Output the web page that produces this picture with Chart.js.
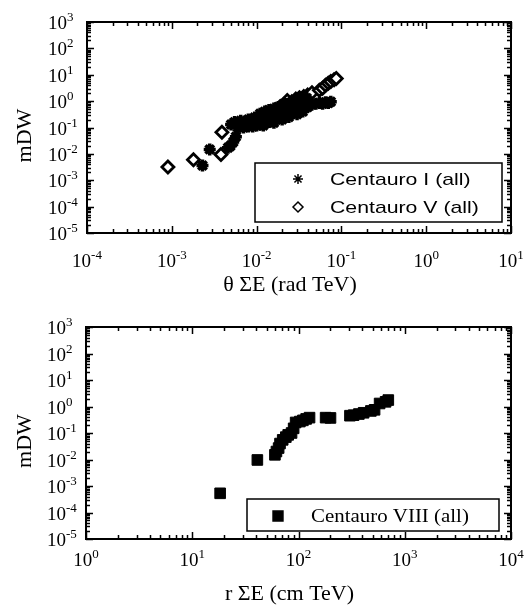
<!DOCTYPE html>
<html>
<head>
<meta charset="utf-8">
<title>mDW vs theta SumE / r SumE</title>
<script src="https://cdn.jsdelivr.net/npm/chart.js@4.4.0/dist/chart.umd.min.js"></script>
<style>
  html, body { margin: 0; padding: 0; background: #fff; }
  .panel { position: absolute; left: 0; width: 529px; }
  #topPanel { top: 0; height: 300px; }
  #bottomPanel { top: 300px; height: 305px; }
</style>
</head>
<body>
<div class="panel" id="topPanel"><canvas id="thetaChart"></canvas></div>
<div class="panel" id="bottomPanel"><canvas id="radiusChart"></canvas></div>
<script>
// --- data ---

// Centauro I (all): theta*SumE [rad TeV] vs mDW
const thetaE_I = [0.0023, 0.0028, 0.0046, 0.0049, 0.0053, 0.0057,
  0.006, 0.007, 0.008, 0.009, 0.010, 0.011, 0.012, 0.013, 0.014, 0.015, 0.017, 0.019, 0.021, 0.023, 0.025, 0.028, 0.031, 0.034, 0.037, 0.040,
  0.005, 0.006, 0.0075, 0.009, 0.0105, 0.012, 0.0135, 0.015, 0.017, 0.019, 0.022, 0.025, 0.028, 0.032, 0.036, 0.040,
  0.0055, 0.0065, 0.008, 0.0095, 0.011, 0.0125, 0.014, 0.016, 0.018, 0.020, 0.022, 0.025, 0.028, 0.031, 0.035, 0.039,
  0.012, 0.016, 0.020, 0.024, 0.030, 0.035,
  0.045, 0.050, 0.055, 0.060, 0.065, 0.070, 0.075];
const mdw_I = [0.0036, 0.0148, 0.017, 0.020, 0.028, 0.045,
  0.10, 0.10, 0.11, 0.11, 0.12, 0.13, 0.14, 0.15, 0.16, 0.18, 0.20, 0.23, 0.26, 0.30, 0.33, 0.38, 0.44, 0.50, 0.55, 0.60,
  0.13, 0.14, 0.15, 0.16, 0.19, 0.22, 0.25, 0.28, 0.32, 0.37, 0.43, 0.50, 0.56, 0.65, 0.72, 0.80,
  0.16, 0.18, 0.20, 0.24, 0.33, 0.40, 0.46, 0.52, 0.60, 0.66, 0.78, 0.85, 1.0, 1.1, 1.2, 1.3,
  0.12, 0.15, 0.20, 0.25, 0.32, 0.40,
  0.75, 0.80, 0.85, 0.80, 0.90, 0.85, 0.95];

// Centauro V (all)
const thetaE_V = [0.0009, 0.0018, 0.0038, 0.0039,
  0.019, 0.021, 0.023, 0.026, 0.029, 0.032, 0.036, 0.040, 0.045,
  0.055, 0.060, 0.065, 0.070, 0.075, 0.082, 0.087];
const mdw_V = [0.0032, 0.006, 0.0095, 0.066,
  0.62, 0.75, 1.05, 0.95, 1.2, 1.35, 1.5, 1.7, 2.1,
  2.6, 3.1, 4.0, 4.8, 5.5, 6.5, 7.2];

// Centauro VIII (all): r*SumE [cm TeV] vs mDW
const rE_VIII = [18.3, 41, 60, 62, 65, 67, 71, 76, 80, 86, 90, 94, 103, 110, 118, 127,
  180, 200, 305, 330, 370, 410, 480, 520, 580, 660, 700];
const mdw_VIII = [0.00053, 0.0096, 0.015, 0.020, 0.027, 0.040, 0.055, 0.070, 0.085, 0.10, 0.15, 0.25, 0.27, 0.30, 0.34, 0.38,
  0.38, 0.37, 0.45, 0.47, 0.52, 0.58, 0.68, 0.75, 1.3, 1.5, 1.75];

// tick decades (labels are 10^n)
const thetaDecades = [-4, -3, -2, -1, 0, 1];
const radiusDecades = [0, 1, 2, 3, 4];
const mdwDecades = [-5, -4, -3, -2, -1, 0, 1, 2, 3];

const toPoints = (xs, ys) => xs.map((x, i) => ({ x: x, y: ys[i] }));

// frame with inward ticks on all sides, 10^n labels, titles and boxed legend
const sciFrame = {
  id: 'sciFrame',
  afterDatasetsDraw(chart, args, opts) {
    const ctx = chart.ctx;
    const a = chart.chartArea;
    const xs = chart.scales.x, ys = chart.scales.y;
    ctx.save();
    ctx.strokeStyle = '#000';
    ctx.fillStyle = '#000';

    ctx.lineWidth = 1.5;
    const ticks = (decs, scale, horiz) => {
      decs.forEach((d, i) => {
        for (let k = 1; k <= 9; k++) {
          if (i === decs.length - 1 && k > 1) break;
          const p = Math.round(scale.getPixelForValue(k * Math.pow(10, d))) + 0.5;
          const len = k === 1 ? 7 : 4;
          ctx.beginPath();
          if (horiz) {
            ctx.moveTo(p, a.bottom); ctx.lineTo(p, a.bottom - len);
            ctx.moveTo(p, a.top); ctx.lineTo(p, a.top + len);
          } else {
            ctx.moveTo(a.left, p); ctx.lineTo(a.left + len, p);
            ctx.moveTo(a.right, p); ctx.lineTo(a.right - len, p);
          }
          ctx.stroke();
        }
      });
    };
    ticks(opts.xDecades, xs, true);
    ticks(opts.yDecades, ys, false);

    ctx.lineWidth = 2;
    ctx.strokeRect(a.left, a.top, a.right - a.left, a.bottom - a.top);

    // tick labels
    const baseFont = '19px "Liberation Serif", "Times New Roman", serif';
    const supFont = '13px "Liberation Serif", "Times New Roman", serif';
    ctx.textBaseline = 'alphabetic';
    ctx.textAlign = 'left';
    opts.xDecades.forEach(d => {
      const p = xs.getPixelForValue(Math.pow(10, d));
      ctx.font = baseFont;
      const bw = ctx.measureText('10').width;
      ctx.font = supFont;
      const sw = ctx.measureText(String(d)).width;
      const x0 = p - (bw + sw) / 2;
      ctx.font = baseFont;
      ctx.fillText('10', x0, a.bottom + opts.xLabelOffset);
      ctx.font = supFont;
      ctx.fillText(String(d), x0 + bw, a.bottom + opts.xLabelOffset - 8);
    });
    opts.yDecades.forEach(d => {
      const p = ys.getPixelForValue(Math.pow(10, d));
      const xr = a.left - 20;
      ctx.font = baseFont;
      ctx.textAlign = 'right';
      ctx.fillText('10', xr, p + 7);
      ctx.font = supFont;
      ctx.textAlign = 'left';
      ctx.fillText(String(d), xr, p - 1);
    });

    // axis titles
    ctx.font = '22px "Liberation Serif", "Times New Roman", serif';
    ctx.textAlign = 'center';
    ctx.textBaseline = 'middle';
    ctx.fillText(opts.xTitle, (a.left + a.right) / 2 - 9, a.bottom + opts.xTitleOffset);
    ctx.save();
    ctx.translate(25, (a.top + a.bottom) / 2 + 8);
    ctx.rotate(-Math.PI / 2);
    ctx.fillText(opts.yTitle, 0, 0);
    ctx.restore();

    // legend box
    const lg = opts.legend;
    const bx = a.right - lg.fromRight, by = a.top + lg.fromTop;
    ctx.fillStyle = '#fff';
    ctx.fillRect(bx, by, lg.w, lg.h);
    ctx.lineWidth = 1.5;
    ctx.strokeRect(bx, by, lg.w, lg.h);
    ctx.textAlign = 'left';
    ctx.textBaseline = 'middle';
    chart.data.datasets.forEach((ds, i) => {
      const ry = by + lg.rowY[i];
      ctx.fillStyle = ds.backgroundColor;
      ctx.strokeStyle = ds.borderColor;
      if (Chart.helpers && Chart.helpers.drawPoint) {
        Chart.helpers.drawPoint(ctx, {
          pointStyle: ds.pointStyle,
          radius: lg.markerRadius[i],
          borderWidth: ds.borderWidth,
          rotation: 0
        }, bx + lg.markerX, ry);
      }
      ctx.fillStyle = '#000';
      ctx.font = lg.font;
      ctx.save();
      ctx.translate(bx + lg.textX, ry + 1);
      ctx.scale(lg.stretch, 1);
      ctx.fillText(ds.label, 0, 0);
      ctx.restore();
    });
    ctx.restore();
  }
};

function logAxes(xMin, xMax, yWidth, xHeight) {
  return {
    x: {
      type: 'logarithmic', min: xMin, max: xMax,
      ticks: { display: false }, grid: { display: false }, border: { display: false },
      afterFit: s => { s.height = xHeight; }
    },
    y: {
      type: 'logarithmic', min: 1e-5, max: 1e3,
      ticks: { display: false }, grid: { display: false }, border: { display: false },
      afterFit: s => { s.width = yWidth; }
    }
  };
}

document.addEventListener('DOMContentLoaded', function () {
  // theta * SumE chart
  new Chart(document.getElementById('thetaChart'), {
    type: 'scatter',
    data: {
      datasets: [
        {
          label: 'Centauro I (all)',
          data: toPoints(thetaE_I, mdw_I),
          pointStyle: 'star', pointRadius: 6, borderWidth: 3.5,
          borderColor: '#000', backgroundColor: '#000',
          order: 1
        },
        {
          label: 'Centauro V (all)',
          data: toPoints(thetaE_V, mdw_V),
          pointStyle: 'rectRot', pointRadius: 6, borderWidth: 2.8,
          borderColor: '#000', backgroundColor: '#fff',
          order: 2
        }
      ]
    },
    options: {
      responsive: true,
      maintainAspectRatio: false,
      animation: false,
      layout: { padding: { top: 22, right: 18, left: 0, bottom: 0 } },
      scales: logAxes(1e-4, 10, 87, 67),
      plugins: {
        legend: { display: false },
        tooltip: { enabled: false },
        sciFrame: {
          xDecades: thetaDecades, yDecades: mdwDecades,
          xTitle: 'θ ΣE (rad TeV)', yTitle: 'mDW',
          xLabelOffset: 34, xTitleOffset: 52,
          legend: {
            fromRight: 256, fromTop: 141, w: 247, h: 59,
            markerX: 43, textX: 75, rowY: [16, 44], markerRadius: [5, 5],
            font: '17px "Liberation Sans", Arial, sans-serif', stretch: 1.25
          }
        }
      }
    },
    plugins: [sciFrame]
  });

  // r * SumE chart
  new Chart(document.getElementById('radiusChart'), {
    type: 'scatter',
    data: {
      datasets: [
        {
          label: 'Centauro VIII (all)',
          data: toPoints(rE_VIII, mdw_VIII),
          pointStyle: 'rect', pointRadius: 7.5, borderWidth: 1,
          borderColor: '#000', backgroundColor: '#000'
        }
      ]
    },
    options: {
      responsive: true,
      maintainAspectRatio: false,
      animation: false,
      layout: { padding: { top: 27, right: 18, left: 0, bottom: 0 } },
      scales: logAxes(1, 1e4, 86, 66),
      plugins: {
        legend: { display: false },
        tooltip: { enabled: false },
        sciFrame: {
          xDecades: radiusDecades, yDecades: mdwDecades,
          xTitle: 'r ΣE (cm TeV)', yTitle: 'mDW',
          xLabelOffset: 27, xTitleOffset: 55,
          legend: {
            fromRight: 264, fromTop: 172, w: 252, h: 32,
            markerX: 31, textX: 64, rowY: [17], markerRadius: [7],
            font: '19px "Liberation Serif", "Times New Roman", serif', stretch: 1.1
          }
        }
      }
    },
    plugins: [sciFrame]
  });
});
</script>
</body>
</html>
